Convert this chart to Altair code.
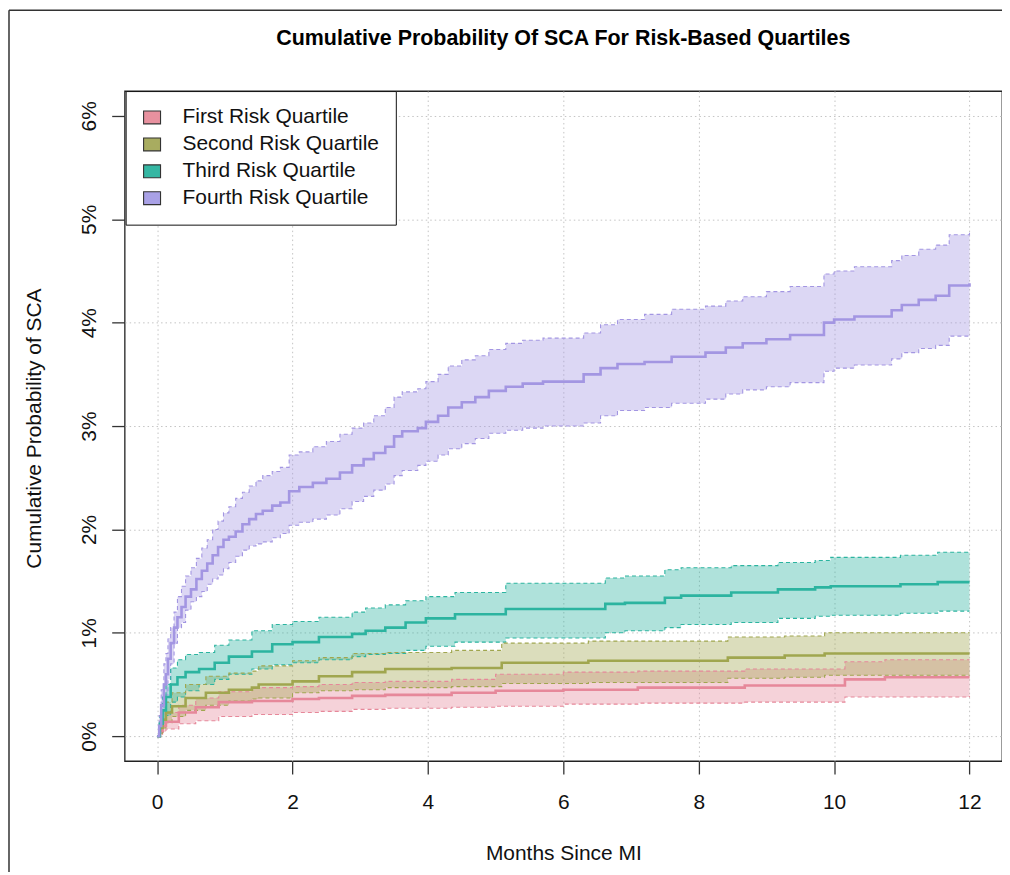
import pandas as pd
import altair as alt

groups = ["First Risk Quartile", "Second Risk Quartile", "Third Risk Quartile", "Fourth Risk Quartile"]
line_colors = ["#E6889A", "#A0A64F", "#2CB4A0", "#A396E2"]
legend_colors = ["#E8919F", "#A8AC60", "#35B7A3", "#A9A1E6"]

# ---- First risk quartile (values in %) ----
q1_t = [0, 0.04, 0.08, 0.13, 0.32, 0.57, 0.91, 1.4, 2.0, 2.39, 2.88, 3.37, 4.35, 5.0, 6.0, 7.1, 8.68, 10.16, 10.75, 12.0]
q1_est = [0, 0.05, 0.10, 0.14, 0.23, 0.28, 0.33, 0.34, 0.36, 0.37, 0.39, 0.40, 0.42, 0.44, 0.45, 0.47, 0.49, 0.55, 0.57, 0.57]
q1_lo = [0, 0.01, 0.04, 0.07, 0.12, 0.15, 0.19, 0.21, 0.23, 0.24, 0.26, 0.27, 0.28, 0.29, 0.31, 0.32, 0.33, 0.38, 0.38, 0.39]
q1_hi = [0, 0.10, 0.17, 0.23, 0.30, 0.37, 0.43, 0.47, 0.48, 0.50, 0.52, 0.53, 0.55, 0.60, 0.62, 0.63, 0.65, 0.72, 0.74, 0.74]

# ---- Second risk quartile ----
q2_t = [0, 0.04, 0.08, 0.13, 0.22, 0.42, 0.72, 1.06, 1.4, 1.5, 2.0, 2.39, 2.88, 3.37, 4.35, 5.09, 6.37, 8.43, 9.27, 9.86, 12.0]
q2_est = [0, 0.08, 0.16, 0.23, 0.29, 0.37, 0.42, 0.45, 0.47, 0.50, 0.53, 0.58, 0.62, 0.65, 0.66, 0.71, 0.73, 0.76, 0.78, 0.80, 0.80]
q2_lo = [0, 0.03, 0.08, 0.13, 0.19, 0.25, 0.30, 0.34, 0.36, 0.37, 0.42, 0.44, 0.45, 0.47, 0.48, 0.51, 0.52, 0.56, 0.57, 0.59, 0.59]
q2_hi = [0, 0.14, 0.25, 0.33, 0.42, 0.50, 0.58, 0.61, 0.63, 0.68, 0.73, 0.76, 0.80, 0.81, 0.83, 0.90, 0.92, 0.96, 0.97, 1.00, 1.00]

# ---- Third risk quartile ----
q3_t = [0, 0.04, 0.08, 0.13, 0.2, 0.3, 0.42, 0.62, 0.85, 1.06, 1.4, 1.7, 2.0, 2.39, 2.88, 3.08, 3.37, 3.67, 3.97, 4.4,
        5.15, 6.62, 6.91, 7.5, 7.74, 8.48, 9.17, 9.72, 9.95, 10.98, 11.53, 12.0]
q3_est = [0, 0.12, 0.25, 0.38, 0.50, 0.57, 0.62, 0.65, 0.71, 0.77, 0.82, 0.89, 0.91, 0.96, 0.99, 1.02, 1.05, 1.10, 1.14, 1.18,
          1.23, 1.28, 1.29, 1.34, 1.36, 1.39, 1.42, 1.44, 1.45, 1.47, 1.49, 1.49]
q3_lo = [0, 0.05, 0.12, 0.20, 0.33, 0.38, 0.44, 0.50, 0.55, 0.60, 0.65, 0.69, 0.71, 0.74, 0.77, 0.79, 0.80, 0.83, 0.87, 0.91,
         0.95, 1.00, 1.02, 1.05, 1.08, 1.10, 1.14, 1.16, 1.17, 1.19, 1.21, 1.21]
q3_hi = [0, 0.20, 0.38, 0.50, 0.66, 0.74, 0.79, 0.81, 0.88, 0.93, 1.02, 1.08, 1.11, 1.15, 1.20, 1.24, 1.27, 1.31, 1.35, 1.39,
         1.48, 1.53, 1.55, 1.61, 1.63, 1.65, 1.68, 1.70, 1.73, 1.75, 1.78, 1.78]

# ---- Fourth risk quartile ----
q4_t = [0, 0.03, 0.06, 0.1, 0.13, 0.16, 0.2, 0.25, 0.3, 0.36, 0.42, 0.5, 0.58, 0.66, 0.74, 0.82, 0.9, 0.98, 1.06, 1.16,
        1.26, 1.36, 1.46, 1.56, 1.7, 1.82, 1.95, 2.1, 2.3, 2.5, 2.7, 2.88, 3.05, 3.2, 3.37, 3.5, 3.62, 3.85, 3.97, 4.15,
        4.3, 4.5, 4.7, 4.9, 5.15, 5.4, 5.7, 6.3, 6.55, 6.8, 7.2, 7.6, 8.1, 8.4, 8.65, 9.0, 9.35, 9.85, 10.0, 10.3,
        10.85, 11.0, 11.25, 11.5, 11.7, 12.0]
q4_est = [0, 0.10, 0.30, 0.50, 0.60, 0.75, 0.90, 1.05, 1.15, 1.25, 1.35, 1.42, 1.52, 1.60, 1.67, 1.75, 1.83, 1.90, 1.93, 1.98,
          2.05, 2.10, 2.15, 2.18, 2.23, 2.26, 2.37, 2.41, 2.45, 2.49, 2.55, 2.62, 2.68, 2.74, 2.80, 2.90, 2.95, 2.98, 3.04, 3.10,
          3.18, 3.23, 3.28, 3.34, 3.38, 3.41, 3.43, 3.50, 3.56, 3.60, 3.62, 3.67, 3.71, 3.76, 3.80, 3.84, 3.88, 4.00, 4.03, 4.06,
          4.12, 4.17, 4.22, 4.26, 4.36, 4.38]
q4_lo = [0, 0.02, 0.10, 0.30, 0.40, 0.55, 0.70, 0.90, 1.05, 1.10, 1.22, 1.30, 1.35, 1.40, 1.47, 1.52, 1.56, 1.62, 1.68, 1.74,
         1.80, 1.84, 1.86, 1.88, 1.92, 1.96, 2.04, 2.07, 2.10, 2.14, 2.20, 2.27, 2.32, 2.38, 2.44, 2.52, 2.57, 2.62, 2.66, 2.72,
         2.78, 2.83, 2.88, 2.93, 2.96, 2.98, 3.00, 3.03, 3.10, 3.15, 3.18, 3.22, 3.26, 3.31, 3.35, 3.38, 3.42, 3.53, 3.56, 3.59,
         3.65, 3.71, 3.75, 3.78, 3.87, 3.87]
q4_hi = [0, 0.20, 0.45, 0.70, 0.80, 0.95, 1.05, 1.20, 1.35, 1.45, 1.55, 1.63, 1.72, 1.82, 1.90, 2.00, 2.08, 2.16, 2.22, 2.30,
         2.36, 2.42, 2.47, 2.52, 2.56, 2.60, 2.72, 2.75, 2.80, 2.85, 2.92, 2.98, 3.03, 3.10, 3.18, 3.28, 3.33, 3.36, 3.43, 3.50,
         3.58, 3.64, 3.68, 3.74, 3.80, 3.83, 3.85, 3.90, 3.98, 4.03, 4.08, 4.13, 4.16, 4.21, 4.25, 4.30, 4.35, 4.47, 4.50, 4.54,
         4.60, 4.65, 4.71, 4.75, 4.85, 4.87]

x_ticks = [0, 2, 4, 6, 8, 10, 12]
y_ticks = [0, 1, 2, 3, 4, 5, 6]
title_text = "Cumulative Probability Of SCA For Risk-Based Quartiles"

FONT = "Liberation Sans"
FS = 21

rows = []
for g, T, E, L, H in zip(groups,
                         [q1_t, q2_t, q3_t, q4_t],
                         [q1_est, q2_est, q3_est, q4_est],
                         [q1_lo, q2_lo, q3_lo, q4_lo],
                         [q1_hi, q2_hi, q3_hi, q4_hi]):
    for t, e, lo, hi in zip(T, E, L, H):
        rows.append({"group": g, "t": t, "est": e, "lo": lo, "hi": hi})
df = pd.DataFrame(rows)
df["legend_group"] = df["group"]
bounds = df.melt(id_vars=["group", "t"], value_vars=["lo", "hi"], var_name="kind", value_name="v")

xscale = alt.Scale(domain=[-0.48, 12.48], nice=False, zero=False)
yscale = alt.Scale(domain=[-0.24, 6.24], nice=False, zero=False)
xaxis = alt.Axis(values=x_ticks, title="Months Since MI", titleX=440, titleY=93,
                 titleBaseline="middle", titleAlign="center", labelPadding=18)
yaxis = alt.Axis(values=y_ticks, title="Cumulative Probability of SCA", labelExpr="datum.value + '%'",
                 labelAngle=-90, labelAlign="center", labelBaseline="bottom", labelPadding=12,
                 titleX=-90, titleY=338, titleBaseline="middle", titleAlign="center", titleAngle=-90)

cscale = alt.Scale(domain=groups, range=line_colors)

X = alt.X("t:Q", scale=xscale, axis=xaxis)

bands = alt.Chart(df).mark_area(interpolate="step-after", opacity=0.38).encode(
    x=X,
    y=alt.Y("lo:Q", scale=yscale, axis=yaxis, stack=None),
    y2="hi:Q",
    fill=alt.Fill("group:N", scale=cscale, legend=None),
)

bound_lines = alt.Chart(bounds).mark_line(interpolate="step-after", strokeDash=[4, 3], strokeWidth=1.1).encode(
    x=X,
    y=alt.Y("v:Q", scale=yscale, axis=yaxis),
    stroke=alt.Stroke("group:N", scale=cscale, legend=None),
    detail="kind:N",
)

est_lines = alt.Chart(df).mark_line(interpolate="step-after", strokeWidth=2.6).encode(
    x=X,
    y=alt.Y("est:Q", scale=yscale, axis=yaxis),
    stroke=alt.Stroke("group:N", scale=cscale, legend=None),
)

legend_layer = alt.Chart(df).mark_square(opacity=0, size=1, filled=True, stroke="#333333", strokeWidth=1.1).encode(
    x=X,
    y=alt.Y("est:Q", scale=yscale, axis=yaxis),
    fill=alt.Fill("legend_group:N", scale=alt.Scale(domain=groups, range=legend_colors), legend=alt.Legend(
        title=None, orient="none", legendX=1, legendY=0,
        symbolType="M-1,-0.76H1V0.76H-1Z", symbolSize=289, symbolOpacity=1,
        symbolStrokeColor="#333333", symbolStrokeWidth=1.1,
        labelFont=FONT, labelFontSize=FS, labelColor="#111111", labelOffset=20,
        rowPadding=5, padding=16, strokeColor="#111111", fillColor="white",
        cornerRadius=0, labelLimit=400,
    )),
)

one = pd.DataFrame({"a": [0]})
title_mark = alt.Chart(one).mark_text(text=title_text, font=FONT, fontSize=21.5, fontWeight="bold",
                                      color="#000000", align="center", baseline="middle").encode(
    x=alt.value(440), y=alt.value(-52))
frame_left = alt.Chart(one).mark_rule(color="#333333", strokeWidth=1.5).encode(
    x=alt.value(-116), y=alt.value(-81), y2=alt.value(800))
frame_top = alt.Chart(one).mark_rule(color="#333333", strokeWidth=1.5).encode(
    x=alt.value(-116), x2=alt.value(890), y=alt.value(-81))

chart = alt.layer(bands, bound_lines, est_lines, legend_layer, title_mark, frame_left, frame_top).resolve_scale(
    fill="independent"
).properties(
    width=880, height=672,
    autosize=alt.AutoSizeParams(type="none"),
    padding={"left": 117, "top": 82, "right": 0, "bottom": 110},
    background="white",
).configure_view(
    stroke="#222222", strokeWidth=1.3
).configure_axis(
    domain=False, tickColor="#333333", tickSize=13, tickWidth=1.3,
    labelFont=FONT, labelFontSize=FS, labelColor="#111111",
    titleFont=FONT, titleFontSize=FS, titleFontWeight="normal", titleColor="#111111",
    gridColor="#c4c4c4", gridDash=[1.5, 3], gridWidth=1,
)

chart.save("out.html", embed_options={"renderer": "svg", "actions": False})
